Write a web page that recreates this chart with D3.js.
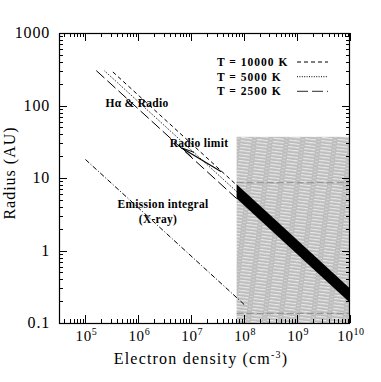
<!DOCTYPE html>
<html>
<head>
<meta charset="utf-8">
<script src="https://cdn.jsdelivr.net/npm/d3@7"></script>
<style>
  body { margin: 0; background: #fff; }
  svg { display: block; font-family: "Liberation Serif", "Times New Roman", serif; }
</style>
</head>
<body>
<svg id="chart" width="381" height="382"></svg>
<script>
// model lines, [density cm^-3, radius AU] at both ends
const temps = ["T = 10000 K", "T = 5000 K", "T = 2500 K"];
const tempStart = [[3.3e5, 290], [2.3e5, 300], [1.6e5, 303]];
const tempEnd = [[7.2e7, 8.0], [7.2e7, 6.5], [7.2e7, 5.2]];
const tempDash = ["4,3", "1,1.4", "11,4"];

const xrayLine = [[1e5, 18], [1e8, 0.18]];
const radioArrow = [[3.7e7, 12.2], [6.6e6, 26]];

// black band inside the shaded area
const bandTop = [[7.2e7, 8.2], [1e10, 0.30]];
const bandBottom = [[7.2e7, 5.2], [1e10, 0.19]];
// shaded box: nMin, nMax, rMin, rMax
const shadeBox = [7.2e7, 1e10, 0.1, 37];
const shadeLevels = [8.6, 0.136];

const xTicks = [1e5, 1e6, 1e7, 1e8, 1e9, 1e10];
const xTickExp = ["5", "6", "7", "8", "9", "10"];
const yTicks = [0.1, 1, 10, 100, 1000];
const yTickLabels = ["0.1", "1", "10", "100", "1000"];

const svg = d3.select("#chart");
const x = d3.scaleLog().domain([Math.pow(10, 4.5), 1e10]).range([59, 350]);
const y = d3.scaleLog().domain([0.1, 1000]).range([323, 33]);

const defs = svg.append("defs");
const pat = defs.append("pattern")
    .attr("id", "hatch")
    .attr("patternUnits", "userSpaceOnUse")
    .attr("width", 16).attr("height", 3.3)
    .attr("patternTransform", "rotate(7)");
pat.append("rect").attr("width", 16).attr("height", 3.3).attr("fill", "#bdbdbd");
pat.append("rect").attr("x", 0).attr("y", 1).attr("width", 11).attr("height", 0.9).attr("fill", "#f4f4f4");
pat.append("rect").attr("x", 12).attr("y", 2.4).attr("width", 3).attr("height", 0.7).attr("fill", "#dddddd");

// shaded region
svg.append("rect")
    .attr("x", x(shadeBox[0]))
    .attr("y", y(shadeBox[3]))
    .attr("width", x(shadeBox[1]) - x(shadeBox[0]))
    .attr("height", y(shadeBox[2]) - y(shadeBox[3]))
    .attr("fill", "url(#hatch)");

shadeLevels.forEach(r => {
  svg.append("line")
      .attr("x1", x(shadeBox[0])).attr("x2", x(shadeBox[1]))
      .attr("y1", y(r)).attr("y2", y(r))
      .attr("stroke", "#8a8a8a").attr("stroke-width", 1)
      .attr("stroke-dasharray", "7,3");
});

// black band
const bandPts = bandTop.concat(bandBottom.slice().reverse());
svg.append("path")
    .attr("d", d3.line().x(d => x(d[0])).y(d => y(d[1]))(bandPts) + "Z")
    .attr("fill", "#000");

const line = d3.line().x(d => x(d[0])).y(d => y(d[1]));

temps.forEach((t, i) => {
  svg.append("path")
      .attr("d", line([tempStart[i], tempEnd[i]]))
      .attr("fill", "none")
      .attr("stroke", "#000")
      .attr("stroke-width", 1)
      .attr("stroke-dasharray", tempDash[i]);
});

svg.append("path")
    .attr("d", line(xrayLine))
    .attr("fill", "none")
    .attr("stroke", "#000")
    .attr("stroke-width", 1)
    .attr("stroke-dasharray", "5,2,1,2");

// radio limit arrow
const ax0 = x(radioArrow[0][0]), ay0 = y(radioArrow[0][1]);
const ax1 = x(radioArrow[1][0]), ay1 = y(radioArrow[1][1]);
svg.append("line")
    .attr("x1", ax0).attr("y1", ay0).attr("x2", ax1).attr("y2", ay1)
    .attr("stroke", "#000").attr("stroke-width", 1.1);
const ang = Math.atan2(ay1 - ay0, ax1 - ax0);
const hl = 13, hw = 2.6;
const bx = ax1 - hl * Math.cos(ang), by = ay1 - hl * Math.sin(ang);
svg.append("path")
    .attr("d", `M${ax1},${ay1}L${bx - hw * Math.sin(ang)},${by + hw * Math.cos(ang)}M${ax1},${ay1}L${bx + hw * Math.sin(ang)},${by - hw * Math.cos(ang)}`)
    .attr("fill", "none").attr("stroke", "#000").attr("stroke-width", 1);

// frame and ticks
const x0 = x.range()[0], x1 = x.range()[1];
const y0 = y.range()[0], y1 = y.range()[1];
const axes = svg.append("g").attr("stroke", "#000").attr("stroke-width", 1);

const xMinor = [];
for (let d = 4; d < 10; d++) for (let k = 2; k <= 9; k++) {
  const v = k * Math.pow(10, d);
  if (v > x.domain()[0] && v < x.domain()[1]) xMinor.push(v);
}
const yMinor = [];
for (let d = -1; d < 3; d++) for (let k = 2; k <= 9; k++) yMinor.push(k * Math.pow(10, d));

xTicks.forEach(v => {
  const px = Math.round(x(v)) + 0.5;
  axes.append("line").attr("x1", px).attr("x2", px).attr("y1", y0).attr("y2", y0 - 8);
  axes.append("line").attr("x1", px).attr("x2", px).attr("y1", y1).attr("y2", y1 + 8);
});
xMinor.forEach(v => {
  const px = Math.round(x(v)) + 0.5;
  axes.append("line").attr("x1", px).attr("x2", px).attr("y1", y0).attr("y2", y0 - 4);
  axes.append("line").attr("x1", px).attr("x2", px).attr("y1", y1).attr("y2", y1 + 4);
});
yTicks.forEach(v => {
  const py = Math.round(y(v)) + 0.5;
  axes.append("line").attr("x1", x0).attr("x2", x0 + 8).attr("y1", py).attr("y2", py);
  axes.append("line").attr("x1", x1).attr("x2", x1 - 8).attr("y1", py).attr("y2", py);
});
yMinor.forEach(v => {
  const py = Math.round(y(v)) + 0.5;
  axes.append("line").attr("x1", x0).attr("x2", x0 + 4).attr("y1", py).attr("y2", py);
  axes.append("line").attr("x1", x1).attr("x2", x1 - 4).attr("y1", py).attr("y2", py);
});

svg.append("rect")
    .attr("x", x0 + 0.5).attr("y", y1 + 0.5)
    .attr("width", x1 - x0 - 1).attr("height", y0 - y1)
    .attr("fill", "none").attr("stroke", "#000").attr("stroke-width", 1.2);

// tick labels
xTicks.forEach((v, i) => {
  const t = svg.append("text")
      .attr("x", x(v) + 1).attr("y", 341)
      .attr("text-anchor", "middle")
      .attr("font-size", 15)
      .attr("letter-spacing", 0.6);
  t.append("tspan").text("10");
  t.append("tspan").attr("font-size", 10).attr("dy", -6).text(xTickExp[i]);
});
yTicks.forEach((v, i) => {
  svg.append("text")
      .attr("x", 50).attr("y", y(v) + 5)
      .attr("text-anchor", "end")
      .attr("font-size", 16)
      .attr("letter-spacing", 0.8)
      .text(yTickLabels[i]);
});

// axis titles
const xt = svg.append("text")
    .attr("x", 201).attr("y", 364)
    .attr("text-anchor", "middle")
    .attr("font-size", 16)
    .attr("letter-spacing", 1.2);
xt.append("tspan").text("Electron density (cm");
xt.append("tspan").attr("font-size", 10).attr("dy", -6).text("-3");
xt.append("tspan").attr("dy", 6).text(")");

svg.append("text")
    .attr("transform", "translate(15,173) rotate(-90)")
    .attr("text-anchor", "middle")
    .attr("font-size", 16)
    .attr("letter-spacing", 1)
    .text("Radius (AU)");

// annotations
const note = (tx, ty, s) => svg.append("text")
    .attr("x", tx).attr("y", ty)
    .attr("text-anchor", "middle")
    .attr("font-size", 11.5)
    .attr("font-weight", "bold")
    .attr("letter-spacing", 0.3)
    .text(s);
note(137, 107, "Hα & Radio");
note(199, 147, "Radio limit");
note(163, 208, "Emission integral");
note(158, 223, "(X-ray)");

// legend
temps.forEach((t, i) => {
  const ly = 62 + i * 14.7;
  svg.append("text")
      .attr("x", 217).attr("y", ly + 4)
      .attr("font-size", 11.5)
      .attr("font-weight", "bold")
      .attr("letter-spacing", 1)
      .text(t);
  svg.append("line")
      .attr("x1", 297).attr("x2", 328)
      .attr("y1", ly).attr("y2", ly)
      .attr("stroke", i === 2 ? "#555" : "#000")
      .attr("stroke-width", i === 2 ? 1.3 : 1)
      .attr("stroke-dasharray", tempDash[i]);
});
</script>
</body>
</html>
